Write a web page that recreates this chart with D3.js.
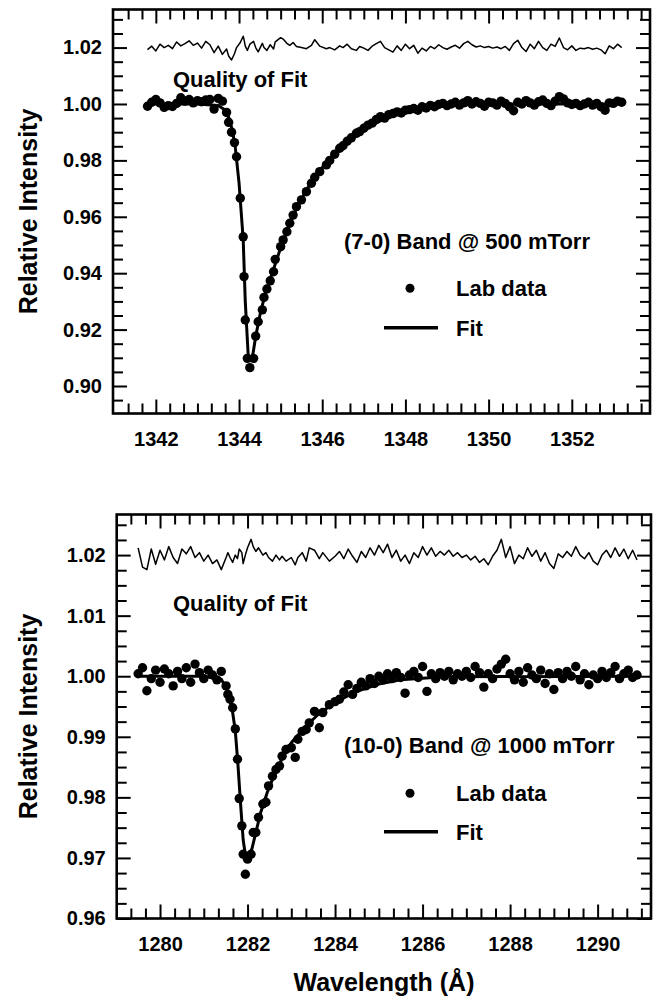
<!DOCTYPE html>
<html><head><meta charset="utf-8">
<script src="https://cdn.jsdelivr.net/npm/d3@7"></script>
<style>
body{margin:0;background:#fff}
text{font-family:"Liberation Sans",Arial,Helvetica,sans-serif;font-weight:bold;fill:#000}
</style>
</head><body>
<svg id="c" width="660" height="1002"></svg>
<script>
// ---------------- DATA: (7-0) band @ 500 mTorr ----------------
const topX = [
1341.8,1341.9,1342.0,1342.1,1342.2,1342.3,1342.4,1342.5,1342.6,1342.7,1342.8,1342.9,1343.0,1343.1,1343.2,1343.3,1343.4,1343.5,1343.6,
1343.70,1343.75,1343.82,1343.89,1343.94,1344.03,1344.10,1344.12,1344.15,1344.20,1344.26,1344.35,1344.40,1344.46,1344.56,1344.60,1344.67,1344.75,1344.83,1344.87,
1345.00,1345.06,1345.15,1345.22,1345.30,1345.38,1345.50,1345.62,1345.74,1345.82,1345.94,
1346.10,1346.18,1346.30,1346.42,1346.50,1346.60,1346.70,1346.82,1346.90,
1347.0,1347.1,1347.2,1347.3,1347.4,1347.5,1347.6,1347.7,1347.8,1347.9,
1348.0,1348.1,1348.2,1348.3,1348.4,1348.5,1348.6,1348.7,1348.8,1348.9,
1349.0,1349.1,1349.2,1349.3,1349.4,1349.5,1349.6,1349.7,1349.8,1349.9,
1350.0,1350.1,1350.2,1350.3,1350.4,1350.5,1350.6,1350.7,1350.8,1350.9,
1351.0,1351.1,1351.2,1351.3,1351.4,1351.5,1351.6,1351.7,1351.8,1351.9,
1352.0,1352.1,1352.2,1352.3,1352.4,1352.5,1352.6,1352.7,1352.8,1352.9,
1353.0,1353.1,1353.2];
const topData = [
0.9992,1.0006,1.0016,1.0004,0.9988,0.9994,0.9991,1.0002,1.0022,1.0010,1.0016,1.0004,1.0012,1.0008,1.0014,1.0016,0.9982,1.0020,1.0010,
0.9970,0.9935,0.9900,0.9863,0.9813,0.9666,0.9529,0.9388,0.9234,0.9098,0.9065,0.9098,0.9177,0.9228,0.9270,0.9314,0.9344,0.9373,0.9405,0.9449,
0.9494,0.9518,0.9547,0.9577,0.9606,0.9636,0.9660,0.9689,0.9719,0.9740,0.9760,
0.9784,0.9800,0.9822,0.9843,0.9852,0.9868,0.9880,0.9896,0.9902,
0.9914,0.9925,0.9932,0.9945,0.9955,0.9950,0.9962,0.9966,0.9972,0.9968,
0.9978,0.9980,0.9984,0.9978,0.9990,0.9986,0.9995,0.9990,0.9998,1.0002,
0.9994,1.0000,1.0006,0.9996,1.0004,1.0012,1.0000,1.0008,1.0002,0.9992,
1.0006,1.0004,0.9996,1.0010,1.0002,0.9990,0.9976,1.0006,1.0000,1.0012,
1.0004,0.9996,1.0008,1.0014,1.0002,0.9994,1.0010,1.0026,1.0018,1.0004,
0.9998,1.0002,0.9994,1.0000,1.0006,0.9996,1.0002,0.9990,0.9978,1.0004,
1.0002,1.0010,1.0006];
const topResidual = [
1.0193,1.0205,1.0188,1.0212,1.0200,1.0208,1.0196,1.0220,1.0206,1.0214,1.0224,1.0208,1.0216,1.0198,1.0222,1.0210,1.0182,1.0205,1.0176,
1.0195,1.0170,1.0156,1.0178,1.0200,1.0218,1.0240,1.0228,1.0205,1.0190,1.0212,1.0222,1.0200,1.0185,1.0215,1.0200,1.0190,1.0210,1.0195,1.0220,
1.0235,1.0230,1.0215,1.0208,1.0218,1.0204,1.0200,1.0196,1.0208,1.0228,1.0205,
1.0196,1.0200,1.0192,1.0206,1.0200,1.0212,1.0196,1.0190,1.0204,
1.0198,1.0190,1.0205,1.0214,1.0222,1.0200,1.0192,1.0184,1.0206,1.0190,
1.0212,1.0196,1.0208,1.0180,1.0198,1.0188,1.0204,1.0196,1.0210,1.0200,
1.0194,1.0202,1.0208,1.0198,1.0214,1.0222,1.0210,1.0202,1.0206,1.0200,
1.0204,1.0198,1.0202,1.0196,1.0204,1.0190,1.0214,1.0226,1.0200,1.0186,
1.0212,1.0196,1.0222,1.0200,1.0190,1.0212,1.0204,1.0234,1.0200,1.0192,
1.0206,1.0190,1.0198,1.0196,1.0200,1.0194,1.0198,1.0192,1.0178,1.0206,
1.0196,1.0212,1.0200];
const topFitX = [1341.8,1343.0,1343.5,1343.7,1343.8,1343.9,1344.0,1344.1,1344.15,1344.22,1344.27,1344.33,1344.40,1344.50,1344.60,1344.75,1344.90,1345.0,1345.2,1345.4,1345.6,1345.8,1346.0,1346.3,1346.6,1347.0,1347.5,1348.0,1348.5,1349.0,1350.0,1353.2];
const topFitY = [1.0000,1.0000,0.9995,0.9975,0.9930,0.9860,0.9720,0.9520,0.9300,0.9110,0.9090,0.9110,0.9175,0.9250,0.9310,0.9380,0.9445,0.9490,0.9570,0.9635,0.9690,0.9737,0.9775,0.9822,0.9865,0.9910,0.9948,0.9972,0.9987,0.9995,1.0000,1.0000];
const topXTicks = [1342,1344,1346,1348,1350,1352];
const topYTicks = [0.90,0.92,0.94,0.96,0.98,1.00,1.02];

// ---------------- DATA: (10-0) band @ 1000 mTorr ----------------
const botX = [
1279.5,1279.6,1279.7,1279.8,1279.9,1280.0,1280.1,1280.2,1280.3,1280.4,1280.5,1280.6,1280.7,1280.8,1280.9,1281.0,1281.1,1281.2,1281.3,1281.4,
1281.51,1281.55,1281.60,1281.66,1281.72,1281.77,1281.81,1281.87,1281.90,1281.95,
1282.00,1282.08,1282.13,1282.19,1282.25,1282.35,1282.42,1282.48,1282.57,1282.65,
1282.73,1282.79,1282.88,1283.00,1283.09,1283.15,1283.25,1283.34,1283.41,1283.53,
1283.64,1283.72,1283.87,
1284.0,1284.1,1284.2,1284.3,1284.4,1284.5,1284.6,1284.7,1284.8,1284.9,
1285.0,1285.1,1285.2,1285.3,1285.4,1285.5,1285.6,1285.7,1285.8,1285.9,
1286.0,1286.1,1286.2,1286.3,1286.4,1286.5,1286.6,1286.7,1286.8,1286.9,
1287.0,1287.1,1287.2,1287.3,1287.4,1287.5,1287.6,1287.7,1287.8,1287.9,
1288.0,1288.1,1288.2,1288.3,1288.4,1288.5,1288.6,1288.7,1288.8,1288.9,
1289.0,1289.1,1289.2,1289.3,1289.4,1289.5,1289.6,1289.7,1289.8,1289.9,
1290.0,1290.1,1290.2,1290.3,1290.4,1290.5,1290.6,1290.7,1290.8,1290.9];
const botData = [
1.0004,1.0014,0.9976,0.9996,1.0010,0.9990,1.0012,1.0004,0.9984,1.0008,0.9996,1.0014,0.9990,1.0020,1.0006,0.9996,1.0010,1.0002,0.9994,1.0008,
0.9984,0.9970,0.9962,0.9948,0.9913,0.9863,0.9798,0.9753,0.9706,0.9673,
0.9698,0.9706,0.9742,0.9742,0.9767,0.9789,0.9792,0.9819,0.9835,0.9846,
0.9852,0.9868,0.9879,0.9882,0.9866,0.9896,0.9909,0.9912,0.9923,0.9942,
0.9915,0.9940,0.9953,
0.9958,0.9962,0.9974,0.9986,0.9970,0.9980,0.9990,0.9984,0.9996,0.9988,
1.0000,0.9994,1.0004,0.9996,1.0006,0.9998,0.9972,1.0002,1.0008,0.9998,
1.0016,0.9975,1.0004,0.9996,1.0006,1.0000,1.0008,0.9994,1.0004,1.0000,
1.0008,0.9998,1.0016,1.0006,0.9982,1.0004,0.9996,1.0012,1.0020,1.0028,
1.0004,0.9994,1.0008,0.9990,1.0014,1.0002,0.9996,1.0010,0.9988,1.0004,
0.9978,1.0006,0.9996,1.0008,1.0000,1.0016,0.9994,1.0004,0.9986,1.0002,
0.9996,1.0008,0.9998,1.0006,1.0016,0.9996,1.0004,1.0010,0.9998,1.0002];
const botResidual = [
1.0212,1.0180,1.0176,1.0210,1.0185,1.0208,1.0192,1.0214,1.0196,1.0186,1.0210,1.0202,1.0214,1.0196,1.0204,1.0190,1.0200,1.0186,1.0192,1.0176,
1.0196,1.0204,1.0196,1.0188,1.0200,1.0194,1.0210,1.0204,1.0186,1.0200,
1.0212,1.0226,1.0214,1.0206,1.0212,1.0200,1.0204,1.0196,1.0190,1.0200,
1.0192,1.0198,1.0190,1.0196,1.0184,1.0196,1.0204,1.0190,1.0212,1.0208,
1.0194,1.0204,1.0190,
1.0198,1.0206,1.0194,1.0210,1.0198,1.0188,1.0206,1.0196,1.0212,1.0200,
1.0216,1.0204,1.0218,1.0196,1.0208,1.0190,1.0200,1.0186,1.0204,1.0196,
1.0214,1.0200,1.0212,1.0198,1.0206,1.0200,1.0208,1.0198,1.0204,1.0196,
1.0200,1.0192,1.0198,1.0188,1.0194,1.0184,1.0198,1.0208,1.0226,1.0196,
1.0214,1.0186,1.0200,1.0194,1.0212,1.0198,1.0208,1.0190,1.0204,1.0186,
1.0178,1.0202,1.0196,1.0206,1.0198,1.0214,1.0200,1.0194,1.0204,1.0190,
1.0184,1.0200,1.0208,1.0196,1.0212,1.0198,1.0210,1.0194,1.0208,1.0192];
const botFitX = [1279.5,1281.0,1281.4,1281.55,1281.65,1281.72,1281.78,1281.84,1281.90,1281.96,1282.02,1282.10,1282.2,1282.3,1282.45,1282.6,1282.8,1283.0,1283.3,1283.6,1284.0,1284.5,1285.0,1285.5,1286.5,1290.9];
const botFitY = [1.0000,1.0000,0.9995,0.9975,0.9945,0.9910,0.9855,0.9790,0.9730,0.9700,0.9698,0.9715,0.9745,0.9775,0.9808,0.9835,0.9866,0.9890,0.9915,0.9936,0.9957,0.9975,0.9987,0.9994,0.9999,1.0000];
const botXTicks = [1280,1282,1284,1286,1288,1290];
const botYTicks = [0.96,0.97,0.98,0.99,1.00,1.01,1.02];

// ---------------- Panel options built from the arrays ----------------
const panels = [
  {xs: topX, data: topData, res: topResidual, fitX: topFitX, fitY: topFitY,
   xTicks: topXTicks, yTicks: topYTicks, xDomain: [1340.97, 1353.88], yDomain: [0.89025, 1.0335],
   yMinorStep: 0.005, left: 113, right: 650, top: 9.5, bottom: 413.5,
   band: "(7-0) Band @ 500 mTorr", qY: 87, bandY: 248.5, dotY: 288.3, fitLY: 327.7},
  {xs: botX, data: botData, res: botResidual, fitX: botFitX, fitY: botFitY,
   xTicks: botXTicks, yTicks: botYTicks, xDomain: [1279.01, 1291.22], yDomain: [0.96, 1.0267],
   yMinorStep: 0.0025, left: 116.7, right: 651, top: 514.5, bottom: 918.5,
   band: "(10-0) Band @ 1000 mTorr", qY: 611, bandY: 752.8, dotY: 793.3, fitLY: 831.7}
];

const svg = d3.select("#c");
const FONT = '"Liberation Sans", Arial, Helvetica, sans-serif';

function styleAxis(g, fs) {
  g.select(".domain").remove();
  g.attr("font-family", FONT).attr("font-size", fs).attr("font-weight", "bold");
  g.selectAll("line").attr("stroke", "#000").attr("stroke-width", 2);
  g.selectAll("text").attr("fill", "#000");
}

function drawPanel(p) {
  const x = d3.scaleLinear().domain(p.xDomain).range([p.left, p.right]);
  const y = d3.scaleLinear().domain(p.yDomain).range([p.bottom, p.top]);
  const g = svg.append("g");

  const eps = 1e-6;
  const xMinor = d3.range(Math.ceil(p.xDomain[0] * 3), Math.floor(p.xDomain[1] * 3) + 1)
    .map(k => k / 3)
    .filter(v => v > p.xDomain[0] + 0.05 && v < p.xDomain[1] - 0.05 && !p.xTicks.some(t => Math.abs(t - v) < eps));
  const yMinor = d3.range(Math.ceil(p.yDomain[0] / p.yMinorStep - eps), Math.floor(p.yDomain[1] / p.yMinorStep + eps) + 1)
    .map(k => k * p.yMinorStep)
    .filter(v => v > p.yDomain[0] + p.yMinorStep * 0.2 && v < p.yDomain[1] - p.yMinorStep * 0.2 && !p.yTicks.some(t => Math.abs(t - v) < eps));

  const fmt = d3.format(".2f");
  const MAJ = 14, MIN = 10;

  g.append("g").attr("transform", `translate(0,${p.bottom})`)
    .call(d3.axisBottom(x).tickValues(p.xTicks).tickSize(-MAJ).tickPadding(18).tickFormat(d3.format("d")))
    .call(a => styleAxis(a, 20));
  g.append("g").attr("transform", `translate(0,${p.bottom})`)
    .call(d3.axisBottom(x).tickValues(xMinor).tickSize(-MIN).tickFormat(""))
    .call(a => styleAxis(a, 20));
  g.append("g").attr("transform", `translate(0,${p.top})`)
    .call(d3.axisTop(x).tickValues(p.xTicks).tickSize(-MAJ).tickFormat(""))
    .call(a => styleAxis(a, 20));
  g.append("g").attr("transform", `translate(0,${p.top})`)
    .call(d3.axisTop(x).tickValues(xMinor).tickSize(-MIN).tickFormat(""))
    .call(a => styleAxis(a, 20));
  g.append("g").attr("transform", `translate(${p.left},0)`)
    .call(d3.axisLeft(y).tickValues(p.yTicks).tickSize(-MAJ).tickPadding(11).tickFormat(fmt))
    .call(a => styleAxis(a, 20));
  g.append("g").attr("transform", `translate(${p.left},0)`)
    .call(d3.axisLeft(y).tickValues(yMinor).tickSize(-MIN).tickFormat(""))
    .call(a => styleAxis(a, 20));
  g.append("g").attr("transform", `translate(${p.right},0)`)
    .call(d3.axisRight(y).tickValues(p.yTicks).tickSize(-MAJ).tickFormat(""))
    .call(a => styleAxis(a, 20));
  g.append("g").attr("transform", `translate(${p.right},0)`)
    .call(d3.axisRight(y).tickValues(yMinor).tickSize(-MIN).tickFormat(""))
    .call(a => styleAxis(a, 20));

  g.append("rect").attr("x", p.left).attr("y", p.top)
    .attr("width", p.right - p.left).attr("height", p.bottom - p.top)
    .attr("fill", "none").attr("stroke", "#000").attr("stroke-width", 2.6);

  const resPts = p.xs.map((v, i) => [v, p.res[i]]);
  g.append("path").datum(resPts)
    .attr("d", d3.line().x(d => x(d[0])).y(d => y(d[1])))
    .attr("fill", "none").attr("stroke", "#000").attr("stroke-width", 1.5).attr("stroke-linejoin", "round");

  const fitPts = p.fitX.map((v, i) => [v, p.fitY[i]]);
  g.append("path").datum(fitPts)
    .attr("d", d3.line().x(d => x(d[0])).y(d => y(d[1])))
    .attr("fill", "none").attr("stroke", "#000").attr("stroke-width", 3).attr("stroke-linejoin", "round");

  const dataPts = p.xs.map((v, i) => [v, p.data[i]]);
  g.append("g").selectAll("circle").data(dataPts).join("circle")
    .attr("cx", d => x(d[0])).attr("cy", d => y(d[1])).attr("r", 4.7).attr("fill", "#000");

  g.append("text").attr("x", 173).attr("y", p.qY).attr("font-size", 22).text("Quality of Fit");
  g.append("text").attr("x", 344).attr("y", p.bandY).attr("font-size", 22).text(p.band);
  g.append("circle").attr("cx", 410).attr("cy", p.dotY).attr("r", 4.5).attr("fill", "#000");
  g.append("text").attr("x", 456).attr("y", p.dotY + 7.8).attr("font-size", 22).text("Lab data");
  g.append("line").attr("x1", 384).attr("x2", 438).attr("y1", p.fitLY).attr("y2", p.fitLY)
    .attr("stroke", "#000").attr("stroke-width", 3.5);
  g.append("text").attr("x", 456).attr("y", p.fitLY + 7.8).attr("font-size", 22).text("Fit");

  g.append("text")
    .attr("transform", `translate(37,${(p.top + p.bottom) / 2}) rotate(-90)`)
    .attr("text-anchor", "middle").attr("font-size", 25).text("Relative Intensity");
}

panels.forEach(drawPanel);

svg.append("text").attr("x", 384).attr("y", 991).attr("text-anchor", "middle")
  .attr("font-size", 25).text("Wavelength (Å)");
</script>
</body></html>
